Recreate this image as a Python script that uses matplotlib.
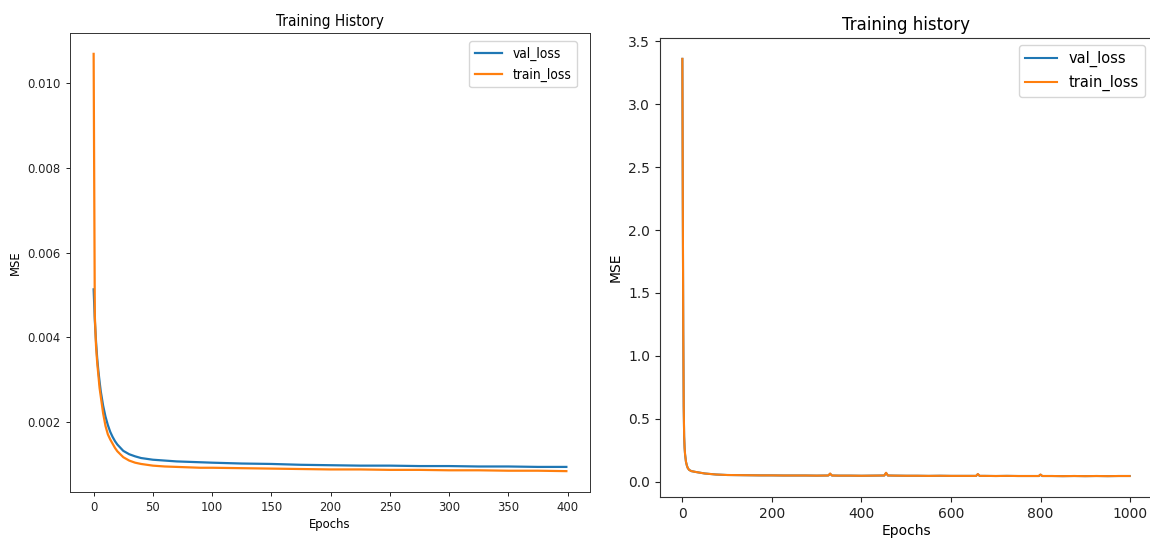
import matplotlib
matplotlib.use("Agg")
import matplotlib.pyplot as plt
from matplotlib import font_manager as fm

# ---------------- data ----------------
left_epochs = [0, 1, 2, 3, 4, 5, 6, 8, 10, 12, 14, 16, 18, 20, 25, 30, 35, 40,
               50, 60, 70, 80, 90, 100, 125, 150, 175, 200, 225, 250, 275, 300,
               325, 350, 375, 399]
left_val_loss = [0.00513, 0.00440, 0.00390, 0.00350, 0.00320, 0.00295, 0.00272,
                 0.00238, 0.00212, 0.00192, 0.00176, 0.00164, 0.00154, 0.00146,
                 0.00131, 0.00123, 0.00118, 0.00114, 0.00110, 0.00108, 0.00106,
                 0.00105, 0.00104, 0.00103, 0.00101, 0.00100, 0.00098, 0.00097,
                 0.00096, 0.00096, 0.00095, 0.00095, 0.00094, 0.00094, 0.00093,
                 0.00093]
left_train_loss = [0.01070, 0.00450, 0.00380, 0.00340, 0.00310, 0.00280, 0.00260,
                   0.00220, 0.00190, 0.00170, 0.00158, 0.00148, 0.00138, 0.00130,
                   0.00116, 0.00108, 0.00103, 0.00100, 0.00096, 0.00094, 0.00093,
                   0.00092, 0.00091, 0.00091, 0.00090, 0.00089, 0.00088, 0.00087,
                   0.00087, 0.00086, 0.00086, 0.00085, 0.00085, 0.00084, 0.00084,
                   0.00083]

right_epochs = [0, 1, 2, 3, 4, 5, 6, 8, 10, 12, 15, 20, 30, 40, 50, 75, 100, 125,
                150, 175, 200, 225, 250, 275, 300, 326, 330, 334, 350, 375, 400,
                425, 451, 455, 459, 475, 500, 525, 550, 575, 600, 625, 656, 660,
                664, 675, 700, 725, 750, 775, 796, 800, 804, 825, 850, 875, 900,
                925, 950, 975, 999]
right_val_loss = [3.36, 2.20, 1.20, 0.60, 0.36, 0.27, 0.22, 0.16, 0.13, 0.11,
                  0.095, 0.085, 0.078, 0.072, 0.066, 0.058, 0.054, 0.053, 0.052,
                  0.051, 0.051, 0.050, 0.050, 0.050, 0.049, 0.050, 0.064, 0.050,
                  0.049, 0.049, 0.048, 0.049, 0.050, 0.070, 0.050, 0.049, 0.048,
                  0.048, 0.047, 0.048, 0.047, 0.047, 0.047, 0.060, 0.047, 0.047,
                  0.046, 0.047, 0.046, 0.046, 0.046, 0.056, 0.046, 0.046, 0.045,
                  0.046, 0.045, 0.046, 0.045, 0.046, 0.046]
right_train_loss = [3.36, 2.20, 1.20, 0.60, 0.36, 0.27, 0.22, 0.16, 0.13, 0.11,
                    0.095, 0.085, 0.078, 0.072, 0.066, 0.058, 0.054, 0.053, 0.052,
                    0.051, 0.051, 0.050, 0.050, 0.050, 0.049, 0.050, 0.066, 0.050,
                    0.049, 0.049, 0.048, 0.049, 0.050, 0.072, 0.050, 0.049, 0.048,
                    0.048, 0.047, 0.048, 0.047, 0.047, 0.047, 0.062, 0.047, 0.047,
                    0.046, 0.047, 0.046, 0.046, 0.046, 0.058, 0.046, 0.046, 0.045,
                    0.046, 0.045, 0.046, 0.045, 0.046, 0.046]

series_names = ["val_loss", "train_loss"]
left_title = "Training History"
right_title = "Training history"
x_label = "Epochs"
y_label = "MSE"

# ---------------- fonts ----------------
cond_file = None
for f in fm.fontManager.ttflist:
    fn = f.fname.replace("\\", "/").split("/")[-1]
    if fn == "DejaVuSansCondensed.ttf":
        cond_file = f.fname
        break

def left_font(size):
    if cond_file:
        return fm.FontProperties(fname=cond_file, size=size)
    return fm.FontProperties(family="Liberation Sans", size=size)

plt.rcParams['font.family'] = ['DejaVu Sans']

BLUE = "#1f77b4"
ORANGE = "#ff7f0e"

fig = plt.figure(figsize=(11.5, 5.4), dpi=100)

# ---------------- left chart ----------------
axl = fig.add_axes([70 / 1150, 48 / 540, 520 / 1150, 459 / 540])
axl.plot(left_epochs, left_val_loss, color=BLUE, lw=1.6, label=series_names[0])
axl.plot(left_epochs, left_train_loss, color=ORANGE, lw=1.6, label=series_names[1])
axl.set_xticks([0, 50, 100, 150, 200, 250, 300, 350, 400])
axl.set_yticks([0.002, 0.004, 0.006, 0.008, 0.010])
axl.set_yticklabels(["0.002", "0.004", "0.006", "0.008", "0.010"])
for lab in axl.get_xticklabels() + axl.get_yticklabels():
    lab.set_fontproperties(left_font(9.3))
axl.tick_params(length=3.2, width=0.7, colors="#222222")
axl.set_title(left_title, fontproperties=left_font(11), pad=5)
axl.set_xlabel(x_label, fontproperties=left_font(9.3), labelpad=3)
axl.set_ylabel(y_label, fontproperties=left_font(9.3), labelpad=4)
for s in axl.spines.values():
    s.set_linewidth(0.7)
    s.set_color("#333333")
axl.legend(loc="upper right", prop=left_font(9.8), handlelength=2.0,
           bbox_to_anchor=(0.975, 0.982), borderaxespad=0.0)

# ---------------- right chart ----------------
axr = fig.add_axes([660 / 1150, 43 / 540, 492 / 1150, 459 / 540])
axr.plot(right_epochs, right_val_loss, color=BLUE, lw=1.5, label=series_names[0])
axr.plot(right_epochs, right_train_loss, color=ORANGE, lw=1.5, label=series_names[1])
axr.set_xticks([0, 200, 400, 600, 800, 1000])
axr.set_yticks([0.0, 0.5, 1.0, 1.5, 2.0, 2.5, 3.0, 3.5])
axr.tick_params(labelsize=10, length=3.5, width=0.8, colors="#222222")
axr.set_title(right_title, fontsize=12, pad=6)
axr.set_xlabel(x_label, fontsize=10, labelpad=2)
axr.set_ylabel(y_label, fontsize=10, labelpad=4)
for s in axr.spines.values():
    s.set_linewidth(0.8)
    s.set_color("#333333")
axr.legend(loc="upper right", fontsize=10.5, handlelength=2.2, borderaxespad=0.5)

fig.savefig("out.png", dpi=100)
